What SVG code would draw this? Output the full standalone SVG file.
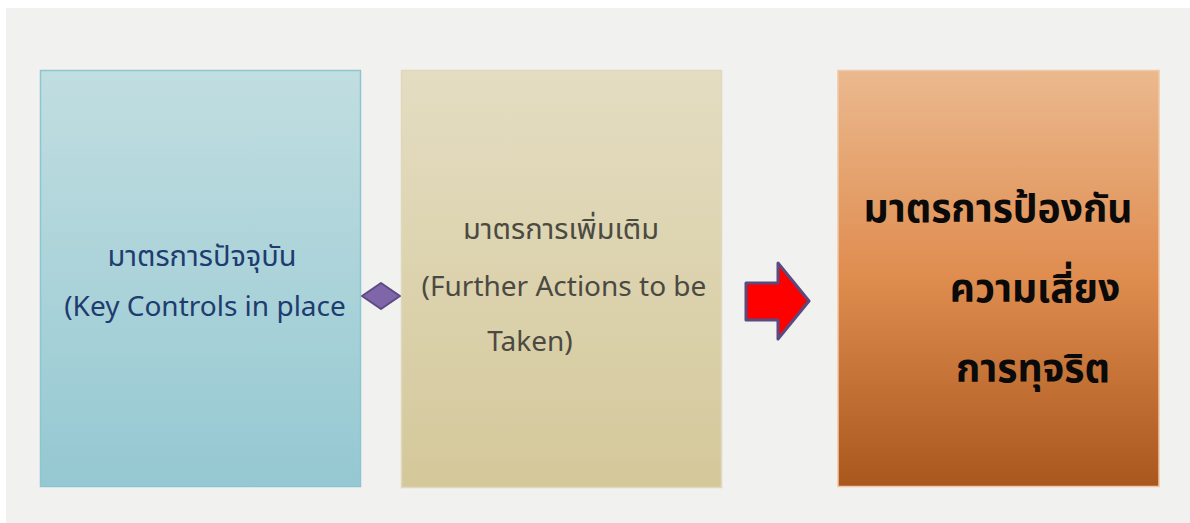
<svg xmlns="http://www.w3.org/2000/svg" width="1190" height="523" viewBox="0 0 1190 523">
<style>
.t{font-family:"Noto Sans Thai","Noto Sans","Open Sans","DejaVu Sans",sans-serif}
.b1{fill:#1e3c70}
.b2{fill:#4b4a42}
.th{font-size:29px}
.la{font-size:28px}
.b3{fill:#0a0a0a;font-size:39px;font-weight:bold}
</style>
<defs>
<linearGradient id="g1" x1="0" y1="0" x2="0" y2="1"><stop offset="0" stop-color="#c1dee1"/><stop offset="1" stop-color="#95c8d2"/></linearGradient>
<linearGradient id="g2" x1="0" y1="0" x2="0" y2="1"><stop offset="0" stop-color="#e4ddc2"/><stop offset="1" stop-color="#d4c89a"/></linearGradient>
<linearGradient id="g3" x1="0" y1="0" x2="0" y2="1"><stop offset="0" stop-color="#ebb98e"/><stop offset="0.5" stop-color="#df8c4f"/><stop offset="1" stop-color="#aa571e"/></linearGradient>
</defs>
<rect x="0" y="0" width="1190" height="523" fill="#ffffff"/>
<rect x="6" y="8" width="1184" height="515" fill="#f1f1ef"/>
<g id="node-current">
<rect x="40.5" y="70.5" width="320" height="416" fill="url(#g1)" stroke="#8ec6cf" stroke-width="1.5"/>
<text class="t b1 th" x="202" y="266" text-anchor="middle">มาตรการปัจจุบัน</text>
<text class="t b1 la" x="205" y="316" text-anchor="middle">(Key Controls in place</text>
</g>
<g id="node-further">
<rect x="401.5" y="70.5" width="320" height="417" fill="url(#g2)" stroke="#e0d8bc" stroke-width="1.5"/>
<text class="t b2 th" x="561" y="239" text-anchor="middle">มาตรการเพิ่มเติม</text>
<text class="t b2 la" x="564" y="296" text-anchor="middle">(Further Actions to be</text>
<text class="t b2 la" x="530" y="351" text-anchor="middle">Taken)</text>
</g>
<g id="node-prevent">
<rect x="838" y="70.5" width="321" height="416" fill="url(#g3)" stroke="#efc8a6" stroke-width="1.5"/>
<text class="t b3" x="998" y="222" text-anchor="middle">มาตรการป้องกัน</text>
<text class="t b3" x="1035" y="302" text-anchor="middle">ความเสี่ยง</text>
<text class="t b3" x="1033" y="382" text-anchor="middle">การทุจริต</text>
</g>
<g id="connectors">
<polygon points="362,296 381,283 400,296 381,309" fill="#7e66a8" stroke="#5e4a85" stroke-width="2" stroke-linejoin="round"/>
<polygon points="746,283 778,283 778,263 809,301 778,339 778,320 746,320" fill="#fe0000" stroke="#5b4a80" stroke-width="3" stroke-linejoin="round"/>
</g>
</svg>
